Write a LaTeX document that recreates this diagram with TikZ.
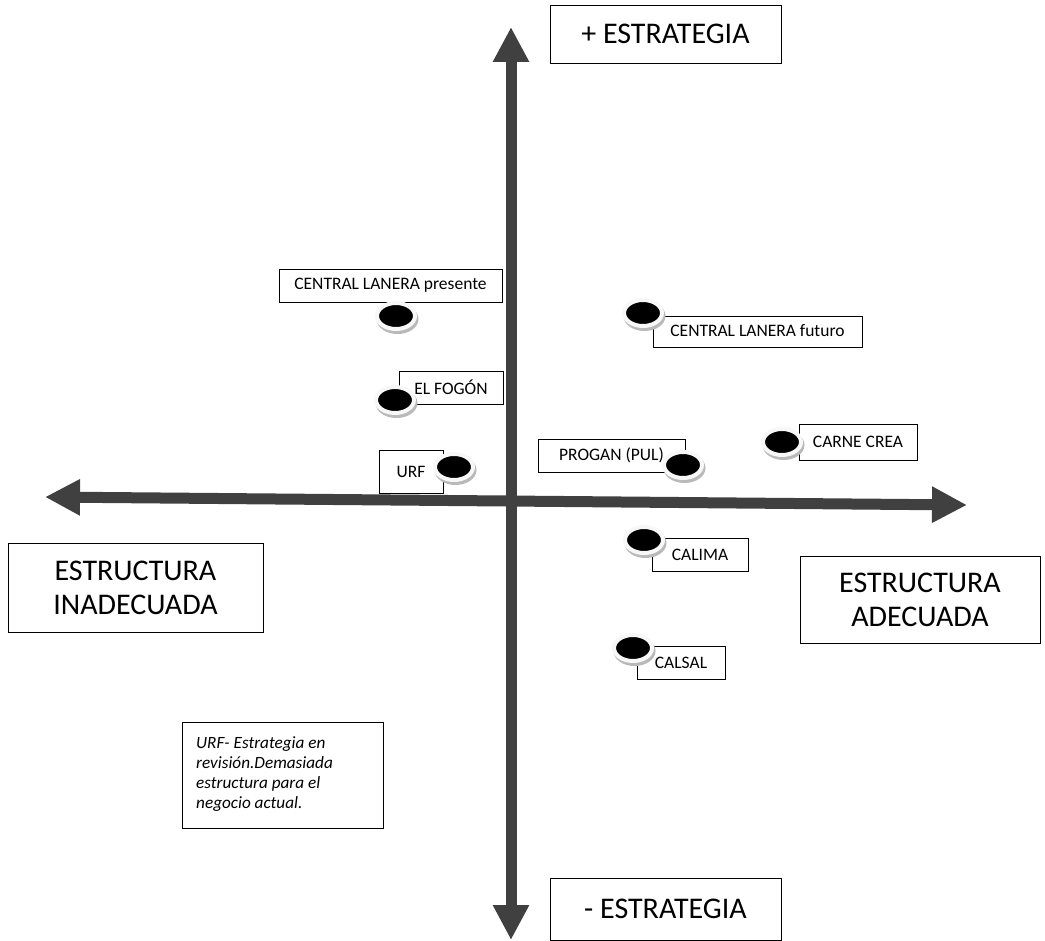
\documentclass[tikz,border=0pt]{standalone}
\usepackage{fontspec}
\setmainfont{Carlito}
\usetikzlibrary{arrows.meta,shapes.geometric}
\definecolor{axisgray}{HTML}{404040}
\tikzset{
  axis/.style={line width=11pt, draw=axisgray,
    {Triangle[width=34pt,length=35pt]}-{Triangle[width=34pt,length=35pt]}},
  bigbox/.style={draw=black, line width=0.9pt, inner sep=0pt, align=center,
    font=\fontsize{30}{34}\selectfont},
  lbl/.style={draw=black, line width=0.8pt, inner sep=0pt,
    font=\fontsize{17.5}{20}\selectfont},
  notebox/.style={draw=black, line width=0.8pt, inner sep=0pt},
  notetext/.style={inner sep=0pt, align=left, anchor=north west,
    font=\fontsize{17.2}{20}\selectfont\itshape},
  disc/.style={ellipse, fill=black, draw=gray!6, line width=4pt,
    minimum width=38pt, minimum height=26pt, inner sep=0pt,
    preaction={draw=gray!55, fill=gray!55, line width=4pt,
      transform canvas={xshift=1.5pt, yshift=-3pt}}}
}
\begin{document}
\begin{tikzpicture}[x=1pt,y=-1pt]
\useasboundingbox (0,0) rectangle (1045,941);
% axes
\coordinate (top) at (511,27);
\coordinate (bot) at (511,940);
\coordinate (lft) at (45,497);
\coordinate (rgt) at (967,505);
\draw[axis] (bot) -- (top);
\draw[axis] (lft) -- (rgt);
% big boxes
\node[bigbox, minimum width=231pt, minimum height=58pt] (plus) at (665.5,34) {+ ESTRATEGIA};
\node[bigbox, minimum width=231pt, minimum height=62pt] (minus) at (665.5,909) {- ESTRATEGIA};
\node[bigbox, minimum width=255pt, minimum height=89pt] (inad) at (135.5,587.5) {ESTRUCTURA\\INADECUADA};
\node[bigbox, minimum width=240pt, minimum height=87pt] (adec) at (920,599.5) {ESTRUCTURA\\ADECUADA};
% label boxes
\node[lbl, minimum width=223pt, minimum height=33pt] (clp) at (390.5,285.5) {CENTRAL LANERA presente};
\node[lbl, minimum width=104pt, minimum height=33pt] (fog) at (451,387.5) {EL FOGÓN};
\node[lbl, minimum width=64pt, minimum height=43pt] (urf) at (411,471.5) {URF};
\node[lbl, minimum width=147pt, minimum height=33pt] (prog) at (611.5,455.5) {PROGAN (PUL)};
\node[lbl, minimum width=209pt, minimum height=31pt, text depth=2pt] (clf) at (757.5,331.5) {CENTRAL LANERA futuro};
\node[lbl, minimum width=118pt, minimum height=36pt] (crea) at (858,442) {CARNE CREA};
\node[lbl, minimum width=96pt, minimum height=33pt] (cali) at (700,554.5) {CALIMA};
\node[lbl, minimum width=88pt, minimum height=33pt] (cals) at (681,662.5) {CALSAL};
\node[notebox, minimum width=201pt, minimum height=106pt] (note) at (282.5,775) {};
\node[notetext] (notet) at (196,736)
  {URF- Estrategia en\\revisión.Demasiada\\estructura para el\\negocio actual.};
% discs
\node[disc] (dclp) at (396,316) {};
\node[disc] (dfog) at (395,400) {};
\node[disc] (durf) at (454,467) {};
\node[disc] (dprog) at (683,465) {};
\node[disc] (dclf) at (643,313) {};
\node[disc] (dcrea) at (782,442) {};
\node[disc] (dcali) at (644,540) {};
\node[disc] (dcals) at (633,648) {};
\end{tikzpicture}
\end{document}
